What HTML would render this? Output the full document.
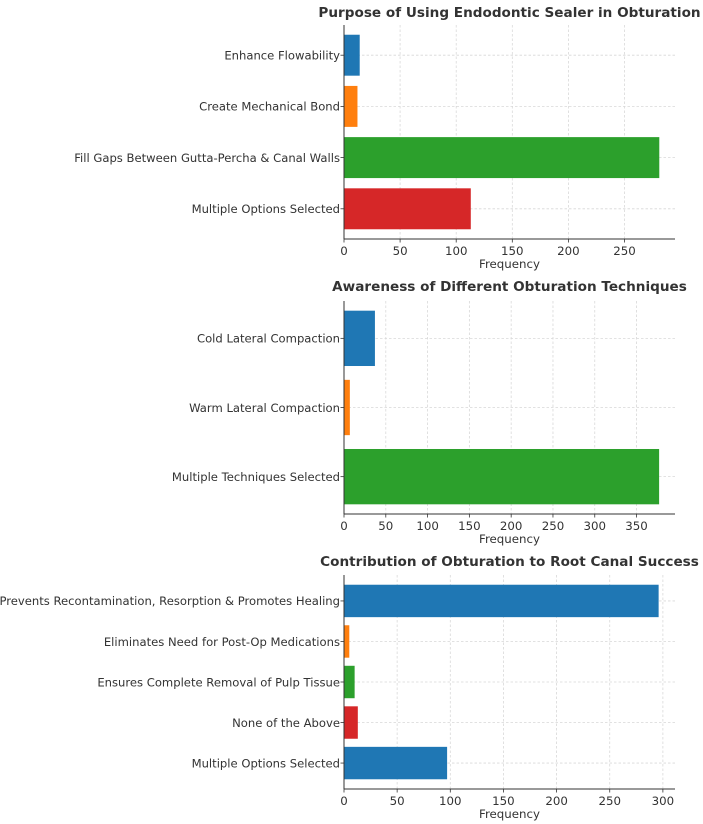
<!DOCTYPE html>
<html><head><meta charset="utf-8"><style>
html,body{margin:0;padding:0;background:#fff;overflow:hidden;}
svg{display:block;font-family:"DejaVu Sans","Liberation Sans",sans-serif;}
</style></head><body>
<svg id="chart" width="703" height="824" viewBox="0 0 703 824" xmlns="http://www.w3.org/2000/svg"></svg>
<script>
const cats1 = ["Enhance Flowability","Create Mechanical Bond","Fill Gaps Between Gutta-Percha & Canal Walls","Multiple Options Selected"];
const vals1 = [14,12,281,113];
const ticks1 = [0,50,100,150,200,250];
const cats2 = ["Cold Lateral Compaction","Warm Lateral Compaction","Multiple Techniques Selected"];
const vals2 = [37,7,377];
const ticks2 = [0,50,100,150,200,250,300,350];
const cats3 = ["Prevents Recontamination, Resorption & Promotes Healing","Eliminates Need for Post-Op Medications","Ensures Complete Removal of Pulp Tissue","None of the Above","Multiple Options Selected"];
const vals3 = [296,5,10,13,97];
const ticks3 = [0,50,100,150,200,250,300];
const colors = ["#1f77b4","#ff7f0e","#2ca02c","#d62728","#1f77b4"];

const svg = document.getElementById('chart');
const NS = "http://www.w3.org/2000/svg";
function mk(tag, attrs, text){
  const e = document.createElementNS(NS, tag);
  for (const k in attrs) e.setAttribute(k, attrs[k]);
  if (text !== undefined) e.textContent = text;
  svg.appendChild(e);
  return e;
}
function drawChart(id, title, cats, vals, ticks, xmax, top, bottom, titleY, xlabelY){
  const x0 = 344, x1 = 675;
  const xs = v => x0 + v / xmax * (x1 - x0);
  const n = cats.length;
  const span = (n - 0.2) * 1.1;
  const unit = (bottom - top) / span;
  const firstC = top + unit * ((n - 0.2) * 0.05 + 0.4);
  const ys = i => firstC + unit * i;
  const bh = unit * 0.8;
  ticks.forEach(t => {
    const g = mk('line', {x1: xs(t), x2: xs(t), y1: top, y2: bottom, stroke: '#d8d8d8', 'stroke-width': 0.8, 'stroke-dasharray': '2.5,2'});
    
    
  });
  cats.forEach((c, i) => {
    const g = mk('line', {x1: x0, x2: x1, y1: ys(i), y2: ys(i), stroke: '#d8d8d8', 'stroke-width': 0.8, 'stroke-dasharray': '2.5,2'});
    
    
  });
  vals.forEach((v, i) => {
    const r = mk('rect', {x: x0, y: ys(i) - bh / 2, width: xs(v) - x0, height: bh, fill: colors[i]});
    
    
    const l = mk('text', {x: x0 - 4, y: ys(i) + 4.3, 'text-anchor': 'end', 'font-size': 11.6, fill: '#333'}, cats[i]);
    
    
    const tk = mk('line', {x1: x0 - 3.5, x2: x0, y1: ys(i), y2: ys(i), stroke: '#333', 'stroke-width': 0.8});
    
    
  });
  const ax = mk('line', {x1: x0, x2: x0, y1: top, y2: bottom, stroke: '#333', 'stroke-width': 1});
  
  
  const bx = mk('line', {x1: x0, x2: x1, y1: bottom, y2: bottom, stroke: '#333', 'stroke-width': 1});
  
  
  ticks.forEach(t => {
    const tk = mk('line', {x1: xs(t), x2: xs(t), y1: bottom, y2: bottom + 3.5, stroke: '#333', 'stroke-width': 0.8});
    
    
    const tl = mk('text', {x: xs(t), y: bottom + 16, 'text-anchor': 'middle', 'font-size': 11.8, fill: '#333'}, String(t));
    
    
  });
  const xl = mk('text', {x: (x0 + x1) / 2, y: xlabelY, 'text-anchor': 'middle', 'font-size': 11.8, fill: '#333'}, 'Frequency');
  
  
  const tt = mk('text', {x: (x0 + x1) / 2, y: titleY, 'text-anchor': 'middle', 'font-size': 13.6, 'font-weight': 'bold', fill: '#333'}, title);
  
  
}
drawChart('sealer-chart', 'Purpose of Using Endodontic Sealer in Obturation', cats1, vals1, ticks1, 295, 25, 239, 17, 268);
drawChart('techniques-chart', 'Awareness of Different Obturation Techniques', cats2, vals2, ticks2, 396, 301, 514, 291, 543);
drawChart('success-chart', 'Contribution of Obturation to Root Canal Success', cats3, vals3, ticks3, 311.4, 575, 789, 566, 818);
</script>
</body></html>
